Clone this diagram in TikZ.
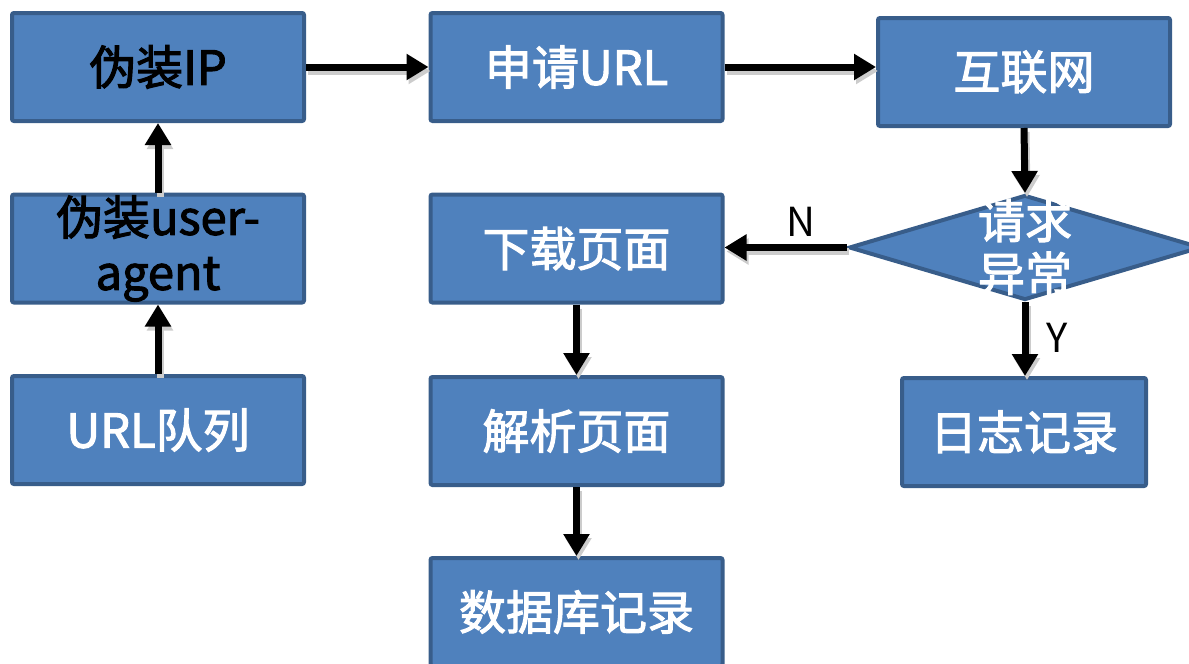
\documentclass[tikz,border=0pt]{standalone}
\usepackage{fontspec}
\setmainfont{Noto Sans CJK SC}
\newfontfamily\boxfont{Noto Sans CJK SC}[FakeBold=2.2]
\usetikzlibrary{arrows.meta,shapes.geometric}
\definecolor{boxfill}{HTML}{4F81BD}
\definecolor{boxline}{HTML}{385D8A}
\tikzset{
  box/.style={draw=boxline, fill=boxfill, line width=2pt, rounded corners=1pt,
    inner sep=0pt, minimum width=146pt, minimum height=54pt, align=center,
    font=\boxfont\fontsize{23.5pt}{27.5pt}\selectfont},
  whitetext/.style={text=white},
  blacktext/.style={text=black},
  decision/.style={diamond, draw=boxline, fill=boxfill, line width=2pt,
    inner sep=0pt, minimum width=176pt, minimum height=52.5pt},
  flow/.style={line width=3.5pt, -{Triangle[width=12.5pt,length=11pt]},
    preaction={draw=black!20, line width=3.5pt, -{Triangle[width=12.5pt,length=11pt]},
      transform canvas={shift={(1pt,-2pt)}}}},
  branch/.style={font=\fontsize{20pt}{24pt}\selectfont}
}
\begin{document}
\begin{tikzpicture}[x=0.5pt,y=-0.5pt]
\useasboundingbox (0,0) rectangle (1189,664);

% left column
\node[box, blacktext] (ip) at (158,67) {伪装IP};
\node[box, blacktext] (ua) at (158,248.5) {伪装user-\\agent};
\node[box, whitetext] (queue) at (158,430) {URL队列};

% middle column
\node[box, whitetext] (req) at (576.5,67) {申请URL};
\node[box, whitetext] (dl) at (576.5,248.5) {下载页面};
\node[box, whitetext] (parse) at (576.5,431) {解析页面};
\node[box, whitetext] (db) at (576.5,612) {数据库记录};

% right column
\node[box, whitetext] (net) at (1024,72) {互联网};
\node[decision] (chk) at (1025,247.5) {};
\node[whitetext, align=center, inner sep=0pt,
  font=\boxfont\fontsize{23.5pt}{26.5pt}\selectfont] (chktext) at (1025,247) {请求\\异常};
\node[box, whitetext, minimum width=122pt] (log) at (1024,432) {日志记录};

% connectors
\draw[flow] (queue.north) -- (ua.south);
\draw[flow] (ua.north) -- (ip.south);
\draw[flow] (ip.east) -- (req.west);
\draw[flow] (req.east) -- (net.west |- req.east);
\draw[flow] (net.south) -- (chk.north);
\draw[flow] (chk.west) -- (dl.east |- chk.west);
\draw[flow] (chk.south) -- (log.north -| chk.south);
\draw[flow] (dl.south) -- (parse.north);
\draw[flow] (parse.south) -- (db.north);

% branch labels
\node[branch] (nlabel) at (801,222) {N};
\node[branch] (ylabel) at (1057,338) {Y};
\end{tikzpicture}
\end{document}
